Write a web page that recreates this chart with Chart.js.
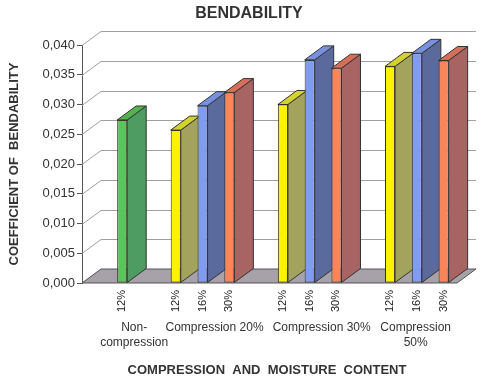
<!DOCTYPE html>
<html>
<head>
<meta charset="utf-8">
<script src="https://cdn.jsdelivr.net/npm/chart.js@4.4.1/dist/chart.umd.min.js"></script>
<style>
  html, body { margin: 0; padding: 0; background: #fff; }
  canvas { display: block; }
</style>
</head>
<body>
<canvas id="bendChart" width="482" height="381"></canvas>
<script>
const groups = [["Non-", "compression"], ["Compression 20%"], ["Compression 30%"], ["Compression", "50%"]];
const moisture = ["12%", "16%", "30%"];
const nonCompression = [0.0274];
const compression20 = [0.0257, 0.0298, 0.0320];
const compression30 = [0.0300, 0.0375, 0.0361];
const compression50 = [0.0364, 0.0386, 0.0374];

// front, side, top
const green = ["#5ec35a", "#4e9c62", "#55b24f"];
const yellow = ["#fff200", "#a3a35e", "#d4d22e"];
const blue = ["#809cf0", "#5b6a9c", "#7790e0"];
const red = ["#fb8559", "#a86462", "#d66e5a"];
const moistureColors = [yellow, blue, red];

// lay the bars out in slots: one empty slot at the start, one between groups
const slotLabels = [];
const slotValues = [];
const slotColors = [];
const groupSlots = [];

function addSlot(label, value, colors) {
  slotLabels.push(label);
  slotValues.push(value);
  slotColors.push(colors);
  return slotLabels.length - 1;
}

addSlot("", null, null);
groupSlots.push([addSlot(moisture[0], nonCompression[0], green)]);
addSlot("", null, null);
[compression20, compression30, compression50].forEach(function (vals, g) {
  const idx = vals.map(function (v, i) { return addSlot(moisture[i], v, moistureColors[i]); });
  groupSlots.push(idx);
  if (g < 2) addSlot("", null, null);
});

const DX = 19, DY = -14;

function poly(ctx, pts, fill) {
  ctx.beginPath();
  ctx.moveTo(pts[0][0], pts[0][1]);
  for (let i = 1; i < pts.length; i++) ctx.lineTo(pts[i][0], pts[i][1]);
  ctx.closePath();
  ctx.fillStyle = fill;
  ctx.fill();
  ctx.stroke();
}

const box3d = {
  id: "box3d",
  beforeDatasetsDraw(chart) {
    const ctx = chart.ctx;
    const a = chart.chartArea;
    const y = chart.scales.y;
    ctx.save();

    // back wall grid lines
    ctx.strokeStyle = "#a0a0a0";
    ctx.lineWidth = 1;
    y.ticks.forEach(function (t) {
      const py = Math.round(y.getPixelForValue(t.value)) + 0.5;
      ctx.beginPath();
      ctx.moveTo(a.left, py);
      ctx.lineTo(a.left + DX, py + DY);
      ctx.lineTo(chart.width - 6, py + DY);
      ctx.stroke();
    });

    // floor
    ctx.strokeStyle = "#555";
    poly(ctx, [[a.left, a.bottom], [a.right, a.bottom], [a.right + DX, a.bottom + DY], [a.left + DX, a.bottom + DY]], "#a7a2aa");

    // side and top faces
    ctx.strokeStyle = "#333";
    chart.getDatasetMeta(0).data.forEach(function (bar, i) {
      if (slotValues[i] == null) return;
      const p = bar.getProps(["x", "y", "base", "width"], true);
      const l = p.x - p.width / 2, r = p.x + p.width / 2;
      poly(ctx, [[r, p.y], [r + DX, p.y + DY], [r + DX, p.base + DY], [r, p.base]], slotColors[i][1]);
      poly(ctx, [[l, p.y], [l + DX, p.y + DY], [r + DX, p.y + DY], [r, p.y]], slotColors[i][2]);
    });
    ctx.restore();
  },
  afterDraw(chart) {
    const ctx = chart.ctx;
    const a = chart.chartArea;
    const x = chart.scales.x;
    ctx.save();
    ctx.textAlign = "center";
    ctx.textBaseline = "middle";
    ctx.fillStyle = "#333";

    ctx.font = "bold 16px 'Liberation Sans', Arial, sans-serif";
    ctx.fillText("BENDABILITY", 249, 14);

    ctx.font = "12px 'Liberation Sans', Arial, sans-serif";
    groups.forEach(function (lines, g) {
      const s = groupSlots[g];
      let cx = x.getPixelForValue(s[Math.floor(s.length / 2)]) + 12;
      const w = Math.max.apply(null, lines.map(function (t) { return ctx.measureText(t).width; }));
      cx = Math.min(cx, a.right - 6 - w / 2);
      lines.forEach(function (t, k) { ctx.fillText(t, cx, 328 + k * 15); });
    });

    ctx.font = "bold 13px 'Liberation Sans', Arial, sans-serif";
    ctx.fillText("COMPRESSION  AND  MOISTURE  CONTENT", 267, 370);

    ctx.translate(14, 164);
    ctx.rotate(-Math.PI / 2);
    ctx.fillText("COEFFICIENT OF  BENDABILITY", 0, 0);
    ctx.restore();
  }
};

new Chart(document.getElementById("bendChart"), {
  type: "bar",
  data: {
    labels: slotLabels,
    datasets: [{
      data: slotValues,
      backgroundColor: slotColors.map(function (c) { return c ? c[0] : "transparent"; }),
      borderColor: "#333",
      borderWidth: 1,
      borderSkipped: false,
      barPercentage: 0.375,
      categoryPercentage: 1
    }]
  },
  options: {
    responsive: false,
    animation: false,
    devicePixelRatio: 1,
    layout: { padding: { top: 45, right: 25, left: 0, bottom: 0 } },
    plugins: {
      legend: { display: false },
      tooltip: { enabled: false }
    },
    scales: {
      x: {
        afterFit: function (s) { s.height = 98; },
        grid: { display: false, drawTicks: false },
        border: { display: false },
        ticks: {
          autoSkip: false,
          minRotation: 90,
          maxRotation: 90,
          padding: 7,
          color: "#222",
          font: { size: 11, family: "'Liberation Sans', Arial, sans-serif" }
        }
      },
      y: {
        min: 0,
        max: 0.04,
        afterFit: function (s) { s.width = 82; },
        grid: { drawOnChartArea: false, drawTicks: true, tickLength: 5, color: "#555" },
        border: { display: true, color: "#555" },
        ticks: {
          stepSize: 0.005,
          padding: 2,
          color: "#333",
          font: { size: 13, family: "'Liberation Sans', Arial, sans-serif" },
          callback: function (value) { return value.toFixed(3).replace(".", ","); }
        }
      }
    }
  },
  plugins: [box3d]
});
</script>
</body>
</html>
